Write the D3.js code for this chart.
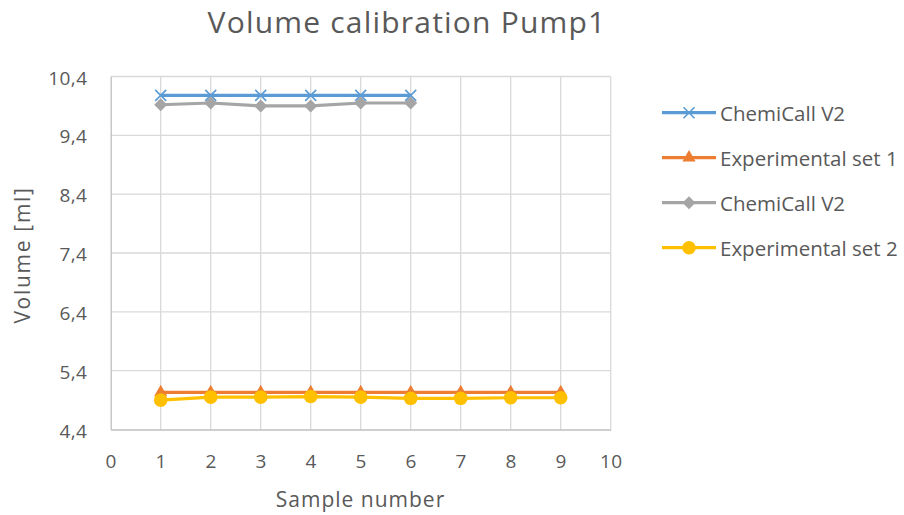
<!DOCTYPE html>
<html>
<head>
<meta charset="utf-8">
<script src="https://cdn.jsdelivr.net/npm/d3@7"></script>
<style>
  html, body { margin: 0; padding: 0; background: #fff; }
  svg { display: block; font-family: "Open Sans", Lato, sans-serif; }
</style>
</head>
<body>
<svg id="chart" width="904" height="515"></svg>
<script>
// Sample numbers and measured volumes per series
const samplesA = [1, 2, 3, 4, 5, 6];
const samplesB = [1, 2, 3, 4, 5, 6, 7, 8, 9];
const chemicallA = [10.08, 10.08, 10.08, 10.08, 10.08, 10.08];
const experimental1 = [5.03, 5.03, 5.03, 5.03, 5.03, 5.03, 5.03, 5.03, 5.03];
const chemicallB = [9.92, 9.95, 9.90, 9.90, 9.95, 9.95];
const experimental2 = [4.90, 4.95, 4.95, 4.96, 4.95, 4.93, 4.93, 4.94, 4.94];

const xTicks = [0, 1, 2, 3, 4, 5, 6, 7, 8, 9, 10];
const yTicks = [4.4, 5.4, 6.4, 7.4, 8.4, 9.4, 10.4];

const seriesNames = ["ChemiCall V2", "Experimental set 1", "ChemiCall V2", "Experimental set 2"];
const seriesColors = ["#5b9bd5", "#ed7d31", "#a5a5a5", "#ffc000"];
const seriesMarkers = ["x", "triangle", "diamond", "circle"];

const series = [
  { x: samplesA, y: chemicallA },
  { x: samplesB, y: experimental1 },
  { x: samplesA, y: chemicallB },
  { x: samplesB, y: experimental2 }
].map((s, i) => ({
  name: seriesNames[i],
  color: seriesColors[i],
  marker: seriesMarkers[i],
  points: s.x.map((xv, j) => ({ x: xv, y: s.y[j] }))
}));

const svg = d3.select("#chart");
const plot = { left: 110.7, right: 610.7, top: 76.5, bottom: 429.5 };
const textColor = "#595959";

const x = d3.scaleLinear().domain([0, 10]).range([plot.left, plot.right]);
const y = d3.scaleLinear().domain([4.4, 10.4]).range([plot.bottom, plot.top]);
const fmt = d => d3.format(".1f")(d).replace(".", ",");

// Gridlines
const grid = svg.append("g");
grid.selectAll("line.h").data(yTicks.filter(d => d !== 4.4)).join("line")
  .attr("x1", plot.left).attr("x2", plot.right)
  .attr("y1", d => y(d)).attr("y2", d => y(d))
  .attr("stroke", "#d9d9d9").attr("stroke-width", 1.3);
grid.selectAll("line.v").data(xTicks.filter(d => d !== 0)).join("line")
  .attr("y1", plot.top).attr("y2", plot.bottom)
  .attr("x1", d => x(d)).attr("x2", d => x(d))
  .attr("stroke", "#d9d9d9").attr("stroke-width", 1.3);

// Axes
const xAxis = svg.append("g")
  .attr("transform", `translate(0,${plot.bottom})`)
  .call(d3.axisBottom(x).tickValues(xTicks).tickSize(0).tickFormat(d3.format("d")));
const yAxis = svg.append("g")
  .attr("transform", `translate(${plot.left},0)`)
  .call(d3.axisLeft(y).tickValues(yTicks).tickSize(0).tickPadding(23.3).tickFormat(fmt));
[xAxis, yAxis].forEach(a => {
  a.select(".domain").attr("stroke", "#bfbfbf").attr("stroke-width", 1.3);
  a.selectAll("text").attr("fill", textColor)
    .style("font-size", "19px").style("letter-spacing", "0.4px")
    .style("font-family", "'Open Sans', sans-serif");
});
xAxis.selectAll("text").attr("y", 38.8).attr("dy", "0");
yAxis.selectAll("text").attr("dy", "7.5px");

// Lines
const line = d3.line().x(d => x(d.x)).y(d => y(d.y));
series.forEach(s => {
  svg.append("path").datum(s.points)
    .attr("d", line).attr("fill", "none")
    .attr("stroke", s.color).attr("stroke-width", 3.2)
    .attr("stroke-linejoin", "round");
});

// Marker drawing
function drawMarker(g, type, color, cx, cy) {
  if (type === "x") {
    const r = 5.5;
    g.append("path")
      .attr("d", `M${cx - r},${cy - r}L${cx + r},${cy + r}M${cx - r},${cy + r}L${cx + r},${cy - r}`)
      .attr("stroke", color).attr("stroke-width", 1.6).attr("fill", "none");
  } else if (type === "triangle") {
    g.append("path").attr("d", d3.symbol(d3.symbolTriangle, 75)())
      .attr("transform", `translate(${cx},${cy})`).attr("fill", color);
  } else if (type === "diamond") {
    const r = 6.5;
    g.append("path").attr("d", `M${cx},${cy - r}L${cx + r},${cy}L${cx},${cy + r}L${cx - r},${cy}Z`)
      .attr("fill", color);
  } else {
    g.append("circle").attr("cx", cx).attr("cy", cy).attr("r", 6.8).attr("fill", color);
  }
}

series.forEach(s => {
  const g = svg.append("g");
  s.points.forEach(p => drawMarker(g, s.marker, s.color, x(p.x), y(p.y)));
});

// Title and axis titles
svg.append("text").attr("x", 407).attr("y", 33.3).attr("text-anchor", "middle")
  .attr("fill", textColor).style("font-size", "30px").style("letter-spacing", "1.2px")
  .text("Volume calibration Pump1");
svg.append("text").attr("x", 360.5).attr("y", 506.7).attr("text-anchor", "middle")
  .attr("fill", textColor).style("font-size", "21px").style("letter-spacing", "1px")
  .text("Sample number");
svg.append("text").attr("transform", "translate(29.5,255) rotate(-90)")
  .attr("text-anchor", "middle").attr("fill", textColor)
  .style("font-size", "21px").style("letter-spacing", "1.7px")
  .text("Volume [ml]");

// Legend
const legend = svg.append("g");
series.forEach((s, i) => {
  const ly = 112.7 + i * 45;
  legend.append("line").attr("x1", 662).attr("x2", 716).attr("y1", ly).attr("y2", ly)
    .attr("stroke", s.color).attr("stroke-width", 3.2);
  drawMarker(legend, s.marker, s.color, 689, ly);
  legend.append("text").attr("x", 720).attr("y", ly + 7.8)
    .attr("fill", textColor).style("font-size", "20.5px").text(s.name);
});
</script>
</body>
</html>
